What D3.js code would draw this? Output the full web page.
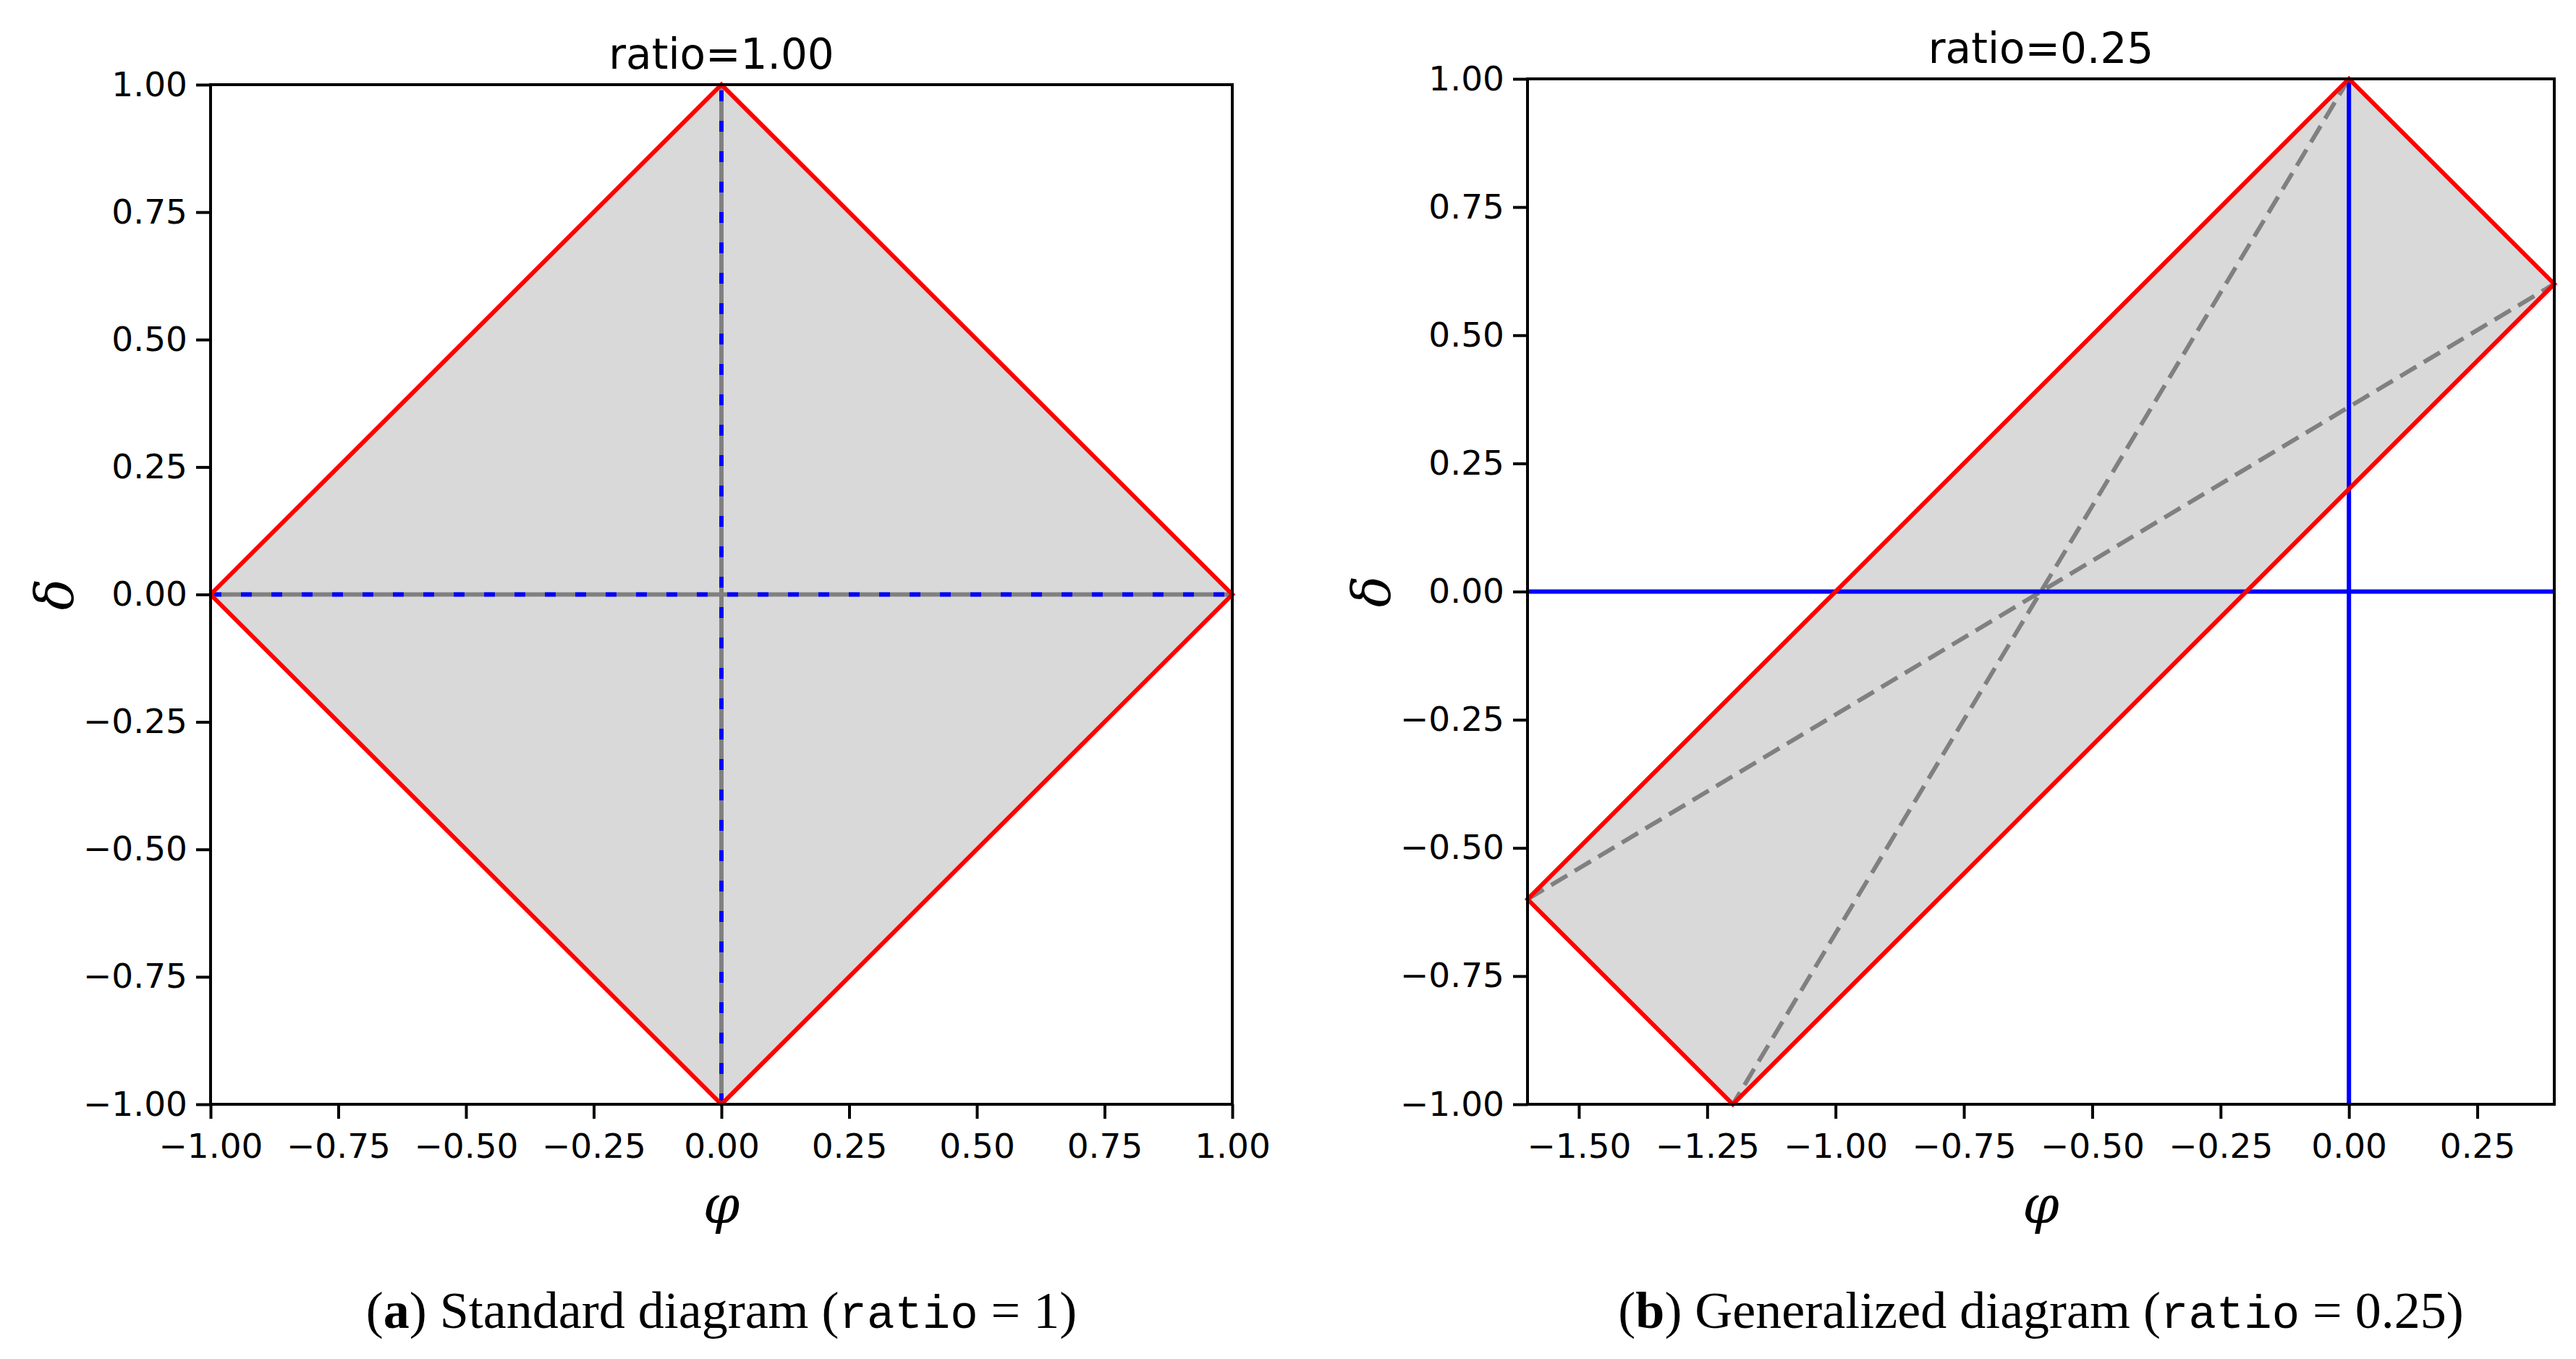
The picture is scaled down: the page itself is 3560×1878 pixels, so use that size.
<!DOCTYPE html>
<html><head><meta charset="utf-8">
<script src="https://cdn.jsdelivr.net/npm/d3@7"></script>
<style>body{margin:0;background:#fff}</style>
</head><body>
<script>
var ticks = [-1, -0.75, -0.5, -0.25, 0, 0.25, 0.5, 0.75, 1];
var ticksB = [-1.5, -1.25, -1, -0.75, -0.5, -0.25, 0, 0.25];

// panel a: ratio = 1
var regionA = [[-1, 0], [0, 1], [1, 0], [0, -1]];
var guidesA = [[[-1, 0], [1, 0]], [[0, -1], [0, 1]]];
// panel b: ratio = 0.25
var regionB = [[-1.6, -0.6], [0, 1], [0.4, 0.6], [-1.2, -1]];
var dashB = [[[0, 1], [-1.2, -1]], [[-1.6, -0.6], [0.4, 0.6]]];
var axesB = [[[-1.6, 0], [0.4, 0]], [[0, -1], [0, 1]]];

var panels = [
  {box: [291, 117, 1703, 1526], xd: [-1, 1], xt: ticks, title: 'ratio=1.00',
   region: regionA, dashed: guidesA, solid: [], blueDash: true, bold: 'a', cap: ' Standard diagram (', r: '1'},
  {box: [2111, 109, 3530, 1526], xd: [-1.6, 0.4], xt: ticksB, title: 'ratio=0.25',
   region: regionB, dashed: dashB, solid: axesB, blueDash: false, bold: 'b', cap: ' Generalized diagram (', r: '0.25'}
];

var svg = d3.select('body').append('svg').attr('width', 3560).attr('height', 1878);
var fmt = function(d) { return d.toFixed(2).replace('-', '\u2212'); };

panels.forEach(function(p) {
  var b = p.box,
    x = d3.scaleLinear().domain(p.xd).range([b[0], b[2]]),
    y = d3.scaleLinear().domain([-1, 1]).range([b[3], b[1]]),
    line = d3.line().x(function(d) { return x(d[0]); }).y(function(d) { return y(d[1]); });
  var g = svg.append('g');

  g.append('path').attr('d', line(p.region) + 'Z').attr('fill', '#d9d9d9');

  p.dashed.forEach(function(s) {
    g.append('path').attr('d', line(s)).attr('stroke', '#808080').attr('stroke-width', 6)
      .attr('fill', 'none').attr('stroke-dasharray', p.blueDash ? null : '26,12');
    if (p.blueDash) {
      g.append('path').attr('d', line(s)).attr('stroke', '#0000ff').attr('stroke-width', 6)
        .attr('fill', 'none').attr('stroke-dasharray', '15,27');
    }
  });
  p.solid.forEach(function(s) {
    g.append('path').attr('d', line(s)).attr('stroke', '#0000ff').attr('stroke-width', 6).attr('fill', 'none');
  });

  g.append('path').attr('d', line(p.region) + 'Z').attr('fill', 'none')
    .attr('stroke', '#ff0000').attr('stroke-width', 6).attr('stroke-linejoin', 'miter');

  g.append('rect').attr('x', b[0]).attr('y', b[1]).attr('width', b[2] - b[0]).attr('height', b[3] - b[1])
    .attr('fill', 'none').attr('stroke', '#000').attr('stroke-width', 4);

  var xa = g.append('g').attr('transform', 'translate(0,' + b[3] + ')')
    .call(d3.axisBottom(x).tickValues(p.xt).tickFormat(fmt).tickSize(20).tickPadding(12));
  var ya = g.append('g').attr('transform', 'translate(' + b[0] + ',0)')
    .call(d3.axisLeft(y).tickValues(ticks).tickFormat(fmt).tickSize(20).tickPadding(12));
  [xa, ya].forEach(function(a) {
    a.select('.domain').remove();
    a.selectAll('line').attr('stroke-width', 4);
    a.selectAll('text').attr('font-family', 'DejaVu Sans').attr('font-size', 47).attr('fill', '#000');
  });
  xa.selectAll('text').attr('dy', '0.9em');

  var cx = (b[0] + b[2]) / 2;
  g.append('text').attr('x', cx).attr('y', b[1] - 22).attr('text-anchor', 'middle')
    .attr('font-family', 'DejaVu Sans').attr('font-size', 58).text(p.title);
  g.append('text').attr('x', cx).attr('y', 1690).attr('text-anchor', 'middle')
    .attr('font-family', 'DejaVu Serif').attr('font-style', 'italic').attr('font-size', 72).text('\u03c6');
  g.append('text').attr('transform', 'translate(95,' + ((b[1] + b[3]) / 2) + ') rotate(-90)')
    .attr('x', 0).attr('y', 0).attr('text-anchor', 'middle')
    .attr('transform', 'translate(' + (b[0] - 190) + ',' + ((b[1] + b[3]) / 2) + ') rotate(-90)')
    .attr('font-family', 'DejaVu Serif').attr('font-style', 'italic').attr('font-size', 72).text('\u03b4');

  var cap = g.append('text').attr('x', cx).attr('y', 1835).attr('text-anchor', 'middle')
    .attr('font-family', 'Liberation Serif').attr('font-size', 72);
  cap.append('tspan').text('(');
  cap.append('tspan').attr('font-weight', 'bold').text(p.bold);
  cap.append('tspan').text(')' + p.cap);
  cap.append('tspan').attr('font-family', 'Liberation Mono').attr('font-size', 64).text('ratio');
  cap.append('tspan').text(' = ' + p.r + ')');
});
</script>
</body></html>
